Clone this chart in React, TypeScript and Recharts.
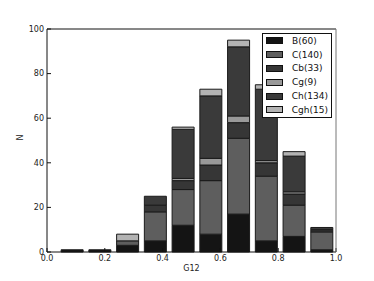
import React from 'react';
import { BarChart, Bar, XAxis, YAxis, Legend } from 'recharts';

// histogram bin centres (G12) and counts per class, bottom to top
const binCenters = [0.0865, 0.1825, 0.2785, 0.3745, 0.4705, 0.5665, 0.6625, 0.7585, 0.8545, 0.9505];
const bCounts = [1, 1, 3, 5, 12, 8, 17, 5, 7, 1];
const cCounts = [0, 0, 2, 13, 16, 24, 34, 29, 14, 8];
const cbCounts = [0, 0, 0, 3, 4, 7, 7, 6, 5, 1];
const cgCounts = [0, 0, 0, 0, 1, 3, 3, 1, 1, 0];
const chCounts = [0, 0, 0, 4, 22, 28, 31, 32, 16, 1];
const cghCounts = [0, 0, 3, 0, 1, 3, 3, 2, 2, 0];

const seriesKeys = ['B', 'C', 'Cb', 'Cg', 'Ch', 'Cgh'];
const seriesLabels = ['B(60)', 'C(140)', 'Cb(33)', 'Cg(9)', 'Ch(134)', 'Cgh(15)'];
const seriesColors = ['#141414', '#5e5e5e', '#363636', '#999999', '#3a3a3a', '#b3b3b3'];

const xTicks = [0, 0.2, 0.4, 0.6, 0.8, 1.0];
const yTicks = [0, 20, 40, 60, 80, 100];

const data = binCenters.map((x, i) => ({
  x,
  B: bCounts[i],
  C: cCounts[i],
  Cb: cbCounts[i],
  Cg: cgCounts[i],
  Ch: chCounts[i],
  Cgh: cghCounts[i],
}));

const font = 'DejaVu Sans, sans-serif';
const tickStyle = { fontSize: 8, fill: '#222', fontFamily: font };

const LegendBox = () => (
  <div
    style={{
      boxSizing: 'border-box',
      width: 70,
      border: '1px solid #111',
      background: '#fff',
      padding: '0 3px',
      fontFamily: font,
      fontSize: 9,
      color: '#111',
    }}
  >
    {seriesLabels.map((label, i) => (
      <div key={label} style={{ display: 'flex', alignItems: 'center', height: 13.8 }}>
        <span
          style={{
            boxSizing: 'border-box',
            width: 17,
            height: 7,
            background: seriesColors[i],
            border: '1px solid #111',
            marginRight: 9,
          }}
        />
        <span>{label}</span>
      </div>
    ))}
  </div>
);

export default function App() {
  return (
    <div style={{ position: 'absolute', left: 0, top: 0, background: '#fff' }}>
      <BarChart
        width={374}
        height={281}
        data={data}
        margin={{ top: 28, right: 37, bottom: 9, left: 17 }}
        barSize={22}
      >
        <XAxis
          dataKey="x"
          type="number"
          domain={[0, 1]}
          ticks={xTicks}
          tickFormatter={(v: number) => v.toFixed(1)}
          tick={tickStyle}
          stroke="#111"
          tickSize={-4}
          tickMargin={7}
          height={20}
          label={{ value: 'G12', position: 'insideBottom', offset: 1, fontSize: 8, fill: '#222', fontFamily: font }}
        />
        <XAxis
          xAxisId="top"
          orientation="top"
          type="number"
          domain={[0, 1]}
          ticks={xTicks}
          tick={false}
          stroke="#111"
          tickSize={-4}
          height={1}
        />
        <YAxis
          type="number"
          domain={[0, 100]}
          ticks={yTicks}
          tick={tickStyle}
          stroke="#111"
          tickSize={-4}
          tickMargin={7}
          width={30}
          label={{ value: 'N', angle: -90, position: 'insideLeft', offset: 3, fontSize: 8, fill: '#222', fontFamily: font }}
        />
        <YAxis
          yAxisId="right"
          orientation="right"
          type="number"
          domain={[0, 100]}
          ticks={yTicks}
          tick={false}
          stroke="#777"
          tickSize={-4}
          width={1}
        />
        {seriesKeys.map((key, i) => (
          <Bar
            key={key}
            dataKey={key}
            name={seriesLabels[i]}
            stackId="g12"
            fill={seriesColors[i]}
            stroke="#1a1a1a"
            strokeWidth={1}
            isAnimationActive={false}
          />
        ))}
        <Legend
          layout="horizontal"
          verticalAlign="middle"
          align="center"
          content={<LegendBox />}
          wrapperStyle={{ left: 262, top: 33, width: 70 }}
        />
      </BarChart>
    </div>
  );
}
